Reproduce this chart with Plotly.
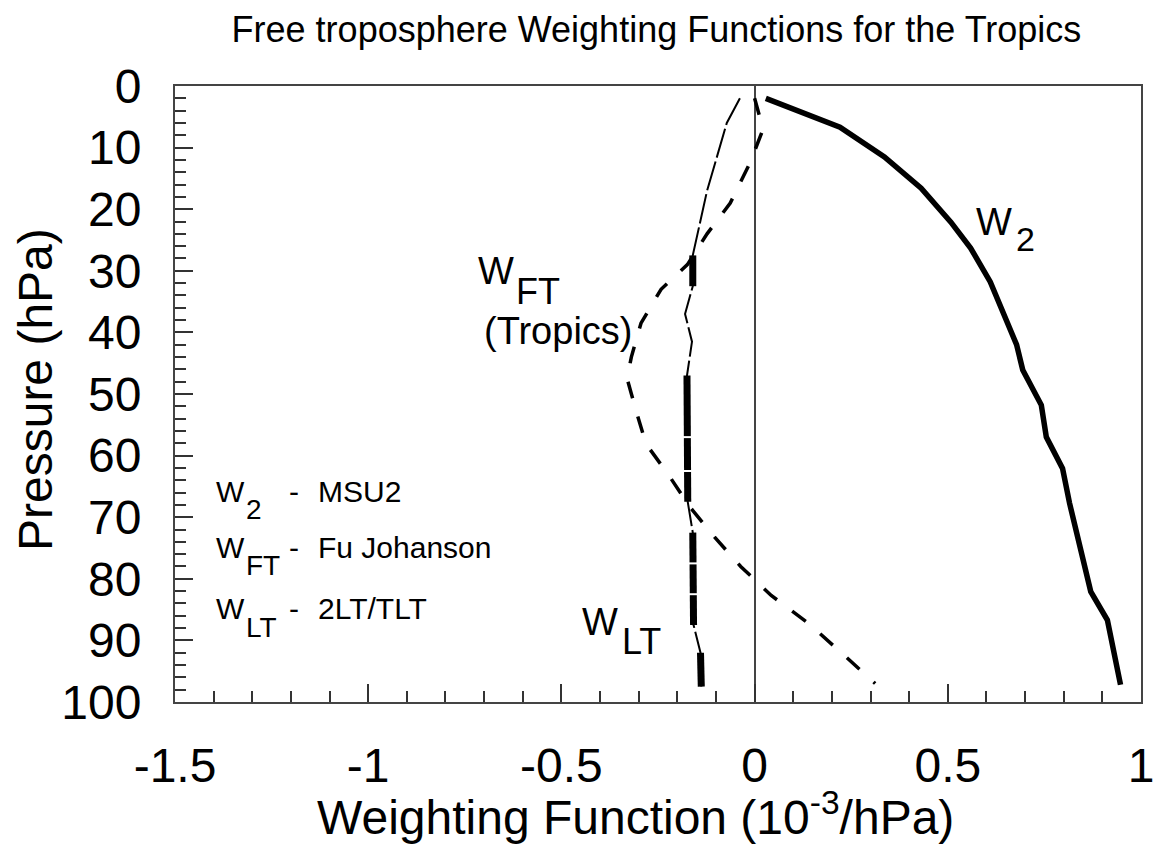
import plotly.graph_objects as go

# --- data (pressure in hPa, weight in 10^-3/hPa) ---
w2_p = [2, 6.7, 11.5, 16.6, 22.1, 26.3, 31.8, 36.7, 42, 46.1, 51.8, 57, 62.1, 67.7, 75, 82.1, 86.7, 97.2]
w2_w = [0.029, 0.221, 0.336, 0.431, 0.508, 0.559, 0.61, 0.644, 0.678, 0.694, 0.742, 0.755, 0.797, 0.815, 0.843, 0.87, 0.913, 0.947]

ft_p = [2, 7, 12.5, 19, 24, 29, 33, 38.5, 44, 47.5, 53.3, 58.1, 63.2, 68.3, 73.2, 78, 82.7, 87.3, 92.6, 97]
ft_w = [0.0, 0.022, -0.012, -0.063, -0.123, -0.174, -0.242, -0.294, -0.319, -0.33, -0.304, -0.281, -0.222, -0.168, -0.104, -0.036, 0.043, 0.141, 0.235, 0.312]

lt_p = [2, 6, 17, 27.5, 32.5, 37, 41.5, 47, 57, 62.5, 67.5, 72.5, 77.5, 82.5, 87.5, 92, 97.5]
lt_w = [-0.038, -0.072, -0.123, -0.16, -0.16, -0.18, -0.162, -0.175, -0.174, -0.173, -0.173, -0.16, -0.159, -0.158, -0.158, -0.14, -0.138]

# layers of W_LT drawn heavy, and the breaks inside them
lt_thick_spans = [(27.5, 32.5), (47, 67.5), (72.5, 87.5), (92, 97.5)]
lt_breaks = [57, 62.5, 77.5, 82.5]

x_tick_vals = [-1.5, -1, -0.5, 0, 0.5, 1]
x_tick_text = ['-1.5', '-1', '-0.5', '0', '0.5', '1']

FONT = 'Liberation Sans, Arial, Helvetica, sans-serif'

fig = go.Figure()

# W_LT thin long-dash line
fig.add_trace(go.Scatter(x=lt_w, y=lt_p, mode='lines',
                         line=dict(color='black', width=2, dash='30px,4px')))

# heavy parts of W_LT
thick_x, thick_y = [], []
for lo, hi in lt_thick_spans:
    for w, p in zip(lt_w, lt_p):
        if lo <= p <= hi:
            thick_x.append(w)
            thick_y.append(p)
    thick_x.append(None)
    thick_y.append(None)
fig.add_trace(go.Scatter(x=thick_x, y=thick_y, mode='lines',
                         line=dict(color='black', width=7)))

# small white breaks in the heavy parts
bx = [w for w, p in zip(lt_w, lt_p) if p in lt_breaks]
by = [p for p in lt_p if p in lt_breaks]
fig.add_trace(go.Scatter(x=bx, y=by, mode='markers',
                         marker=dict(symbol='line-ew', size=10,
                                     line=dict(color='white', width=2))))

# W_FT dashed
fig.add_trace(go.Scatter(x=ft_w, y=ft_p, mode='lines',
                         line=dict(color='black', width=3.5, dash='17px,19px')))

# W2 solid
fig.add_trace(go.Scatter(x=w2_w, y=w2_p, mode='lines',
                         line=dict(color='black', width=5.5)))


def label(text, x, y, size, anchor='center'):
    fig.add_annotation(x=x, y=y, xref='x', yref='y', text=text, showarrow=False,
                       xanchor=anchor, yanchor='middle',
                       font=dict(family=FONT, size=size, color='black'))


# curve labels
label('W', 0.62, 22.0, 38)
label('2', 0.70, 24.8, 34)
label('W', -0.669, 30.0, 38)
label('FT', -0.560, 33.4, 36)
label('(Tropics)', -0.510, 39.8, 38)
label('W', -0.399, 87.0, 38)
label('LT', -0.294, 90.1, 36)

# key
for y0, sub, desc in [(65.8, '2', 'MSU2'), (74.9, 'FT', 'Fu Johanson'), (84.9, 'LT', '2LT/TLT')]:
    label('W', -1.398, y0, 30, 'left')
    label(sub, -1.321, y0 + 3.0, 28, 'left')
    label('-', -1.210, y0, 30, 'left')
    label(desc, -1.136, y0, 30, 'left')

# axis titles as free text
fig.add_annotation(x=0.477, y=-0.182, xref='paper', yref='paper',
                   text='Weighting Function (10<sup>-3</sup>/hPa)', showarrow=False,
                   xanchor='center', yanchor='middle',
                   font=dict(family=FONT, size=48, color='black'))
fig.add_annotation(x=-0.145, y=0.508, xref='paper', yref='paper',
                   text='Pressure (hPa)', showarrow=False, textangle=-90,
                   xanchor='center', yanchor='middle',
                   font=dict(family=FONT, size=48, color='black'))

# page body adds an 8px margin, so the figure is sized to sit inside the window
fig.update_layout(
    width=1158, height=836,
    margin=dict(l=167, r=13, t=78, b=142),
    paper_bgcolor='white', plot_bgcolor='white',
    showlegend=False,
    title=dict(text='Free troposphere Weighting Functions for the Tropics',
               x=0.560, xanchor='center', y=0.974, yanchor='middle',
               font=dict(family=FONT, size=36, color='black')),
)

fig.update_xaxes(range=[-1.5, 1], tickvals=x_tick_vals, ticktext=x_tick_text,
                 ticks='inside', ticklen=18, tickwidth=2, tickcolor='#333',
                 minor=dict(ticks='inside', ticklen=11, tickwidth=1.5, dtick=0.1, tickcolor='#333'),
                 showline=True, linewidth=2, linecolor='#444', mirror=True,
                 showgrid=False, zeroline=True, zerolinecolor='#444', zerolinewidth=1.5,
                 ticklabelstandoff=20, ticklabeloverflow='allow',
                 tickfont=dict(family=FONT, size=48, color='black'))
fig.update_yaxes(range=[100, 0], dtick=10, tick0=0,
                 ticks='inside', ticklen=18, tickwidth=2, tickcolor='#333',
                 minor=dict(ticks='inside', ticklen=11, tickwidth=1.5, dtick=2, tickcolor='#333'),
                 showline=True, linewidth=2, linecolor='#444', mirror=True,
                 showgrid=False, zeroline=False,
                 ticklabelstandoff=22,
                 tickfont=dict(family=FONT, size=48, color='black'))

fig.write_html("out.html")
